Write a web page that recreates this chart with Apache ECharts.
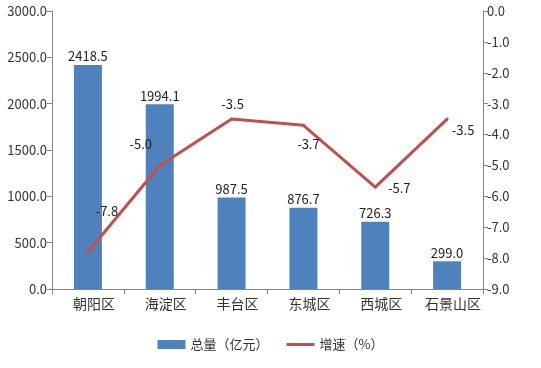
<!DOCTYPE html>
<html><head><meta charset="utf-8">
<script src="https://cdn.jsdelivr.net/npm/echarts@6/dist/echarts.min.js"></script>
<style>html,body{margin:0;padding:0;background:#fff}#c{width:541px;height:368px}</style>
</head><body><div id="c"></div>
<script>
var categories = ['朝阳区','海淀区','丰台区','东城区','西城区','石景山区'];
var totals = [2418.5, 1994.1, 987.5, 876.7, 726.3, 299.0];
var growth = [-7.8, -5.0, -3.5, -3.7, -5.7, -3.5];
var leftTicks = [0, 500, 1000, 1500, 2000, 2500, 3000];
var rightTicks = [-9, -8, -7, -6, -5, -4, -3, -2, -1, 0];

var font = '"Noto Sans CJK SC", sans-serif';
var axisColor = '#868686';
var lineLabelOffsets = [[19,-28],[-19,-8],[1,-2],[5,32],[24,14],[16,24]];

var chart = echarts.init(document.getElementById('c'));
chart.setOption({
  animation: false,
  grid: {left: 52, right: 58, top: 11, bottom: 79, containLabel: false},
  legend: {
    bottom: 12, left: 'center', itemGap: 18,
    textStyle: {fontFamily: font, fontSize: 13, color: '#333'},
    data: [
      {name: '总量（亿元）', icon: 'rect'},
      {name: '增速（%）', icon: 'path://M0,0H28V3H0Z'}
    ],
    itemWidth: 28, itemHeight: 9
  },
  xAxis: {
    type: 'category', data: categories,
    axisLine: {lineStyle: {color: axisColor}},
    axisTick: {show: true, length: 5, lineStyle: {color: axisColor}},
    axisLabel: {interval: 0, fontFamily: font, fontSize: 14, color: '#333', margin: 8, padding: [0, 0, 0, 12]}
  },
  yAxis: [
    {type: 'value', min: leftTicks[0], max: leftTicks[leftTicks.length-1], interval: 500,
     splitLine: {show: false},
     axisLine: {show: true, lineStyle: {color: axisColor}},
     axisTick: {show: true, length: 5, lineStyle: {color: axisColor}},
     axisLabel: {fontFamily: font, fontSize: 13, color: '#333', margin: 5,
                 formatter: function(v){return v.toFixed(1);}}},
    {type: 'value', min: rightTicks[0], max: rightTicks[rightTicks.length-1], interval: 1,
     position: 'right',
     splitLine: {show: false},
     axisLine: {show: true, lineStyle: {color: axisColor}},
     axisTick: {show: true, length: 5, lineStyle: {color: axisColor}},
     axisLabel: {fontFamily: font, fontSize: 13, color: '#333', margin: 4,
                 formatter: function(v){return v.toFixed(1);}}}
  ],
  series: [
    {name: '总量（亿元）', type: 'bar', data: totals, barWidth: 28,
     itemStyle: {color: '#4f81bd'},
     label: {show: true, position: 'top', distance: 2, fontFamily: font, fontSize: 13, color: '#222',
             formatter: function(p){return p.value.toFixed(1);}}},
    {name: '增速（%）', type: 'line', yAxisIndex: 1,
     data: growth.map(function(v,i){return {value: v, label: {offset: lineLabelOffsets[i]}};}),
     symbol: 'circle', symbolSize: 3, showSymbol: true,
     lineStyle: {color: '#c0504d', width: 3}, itemStyle: {color: '#c0504d'},
     label: {show: true, position: 'top', fontFamily: font, fontSize: 13, color: '#222',
             formatter: function(p){return p.value.toFixed(1);}}}
  ]
});
</script></body></html>
